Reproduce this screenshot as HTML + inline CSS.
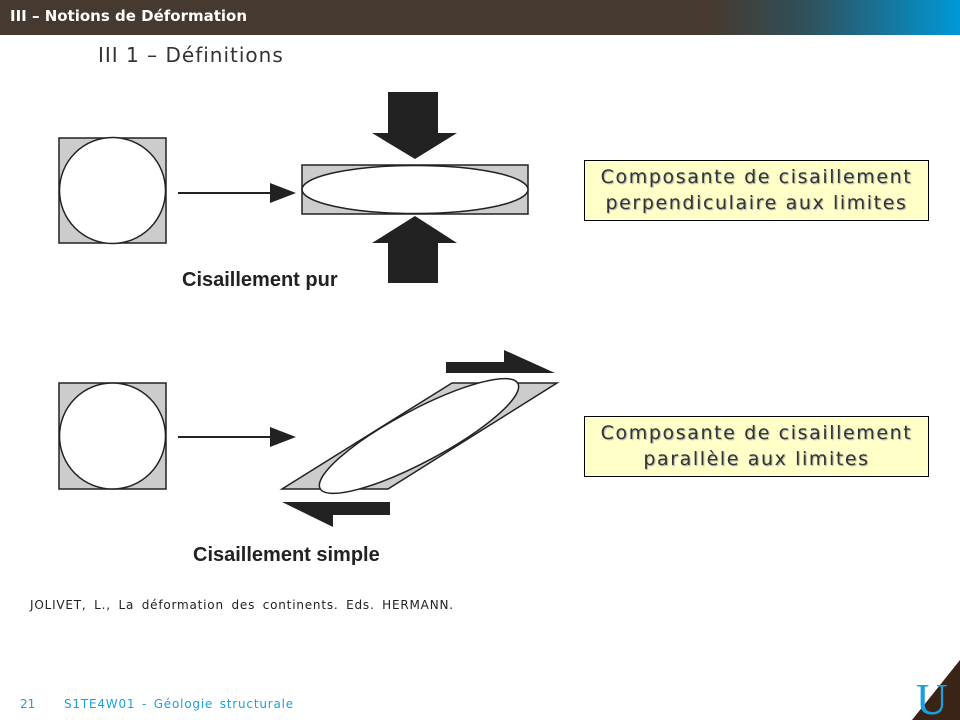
<!DOCTYPE html>
<html><head><meta charset="utf-8"><style>
body{margin:0;width:960px;height:720px;overflow:hidden;background:#fff;font-family:"DejaVu Sans","Liberation Sans",sans-serif;position:relative}
.hdr{position:absolute;left:0;top:0;width:960px;height:35px;background:linear-gradient(90deg,#463a30 0%,#463a30 74%,#30505a 84%,#0098d8 100%)}
.hdr span{position:absolute;left:10px;top:7px;color:#fff;font-weight:bold;font-size:15px}
.t{position:absolute;white-space:nowrap}
.box{position:absolute;left:584px;width:345px;height:61px;background:#ffffc8;border:1px solid #000;text-align:center;font-size:19px;line-height:26px;color:#333;letter-spacing:1.6px;text-shadow:1px 1px 1px #aaa;padding-top:3px;box-sizing:border-box}
</style></head><body>
<div class="hdr"><span>III – Notions de Déformation</span></div>
<div class="t" style="left:98px;top:43px;font-size:20px;color:#333;letter-spacing:1px">III 1 – Définitions</div>
<svg width="960" height="720" style="position:absolute;left:0;top:0">
<g stroke="#222" stroke-width="1.5">
<rect x="59" y="138" width="107" height="105" fill="#ccc"/>
<circle cx="112.5" cy="190.5" r="53" fill="#fff"/>
<rect x="302" y="165" width="226" height="49" fill="#ccc"/>
<ellipse cx="415" cy="189.5" rx="113" ry="24" fill="#fff"/>
<rect x="59" y="383" width="107" height="106" fill="#ccc"/>
<circle cx="112.5" cy="436" r="53" fill="#fff"/>
<polygon points="452,383 557,383 388,489 282,489" fill="#ccc"/>
<ellipse cx="419" cy="436" rx="112" ry="26" transform="rotate(-28 419 436)" fill="#fff"/>
<line x1="178" y1="193" x2="272" y2="193" stroke-width="2"/>
<line x1="178" y1="437" x2="272" y2="437" stroke-width="2"/>
</g>
<g fill="#222">
<polygon points="270,183 296,193 270,203"/>
<polygon points="270,427 296,437 270,447"/>
<polygon points="388,92 438,92 438,133 457,133 415,159 372,133 388,133"/>
<polygon points="415,216 457,243 438,243 438,283 388,283 388,243 372,243"/>
<polygon points="446,362 504,362 504,350 555,373 446,373"/>
<polygon points="282,502 390,502 390,515 333,515 333,527"/>
</g>
<text x="182" y="286" font-family="Liberation Sans,sans-serif" font-weight="bold" font-size="20" fill="#222">Cisaillement pur</text>
<text x="193" y="561" font-family="Liberation Sans,sans-serif" font-weight="bold" font-size="20" fill="#222">Cisaillement simple</text>
<polygon points="912,720 960,660 960,720" fill="#3a2418"/>
<text x="916" y="714" font-family="Liberation Serif,serif" font-size="44" fill="#1aa0e0">U</text>
</svg>
<div class="box" style="top:160px">Composante de cisaillement<br>perpendiculaire aux limites</div>
<div class="box" style="top:416px">Composante de cisaillement<br>parallèle aux limites</div>
<div class="t" style="left:30px;top:598px;font-size:12px;color:#222;letter-spacing:0.8px;word-spacing:3px">JOLIVET, L., La déformation des continents. Eds. HERMANN.</div>
<div class="t" style="left:20px;top:697px;font-size:12px;color:#1aa0e0">21</div>
<div class="t" style="left:64px;top:697px;font-size:12px;color:#1aa0e0;letter-spacing:0.8px;word-spacing:2px">S1TE4W01 - Géologie structurale</div>
</body></html>
